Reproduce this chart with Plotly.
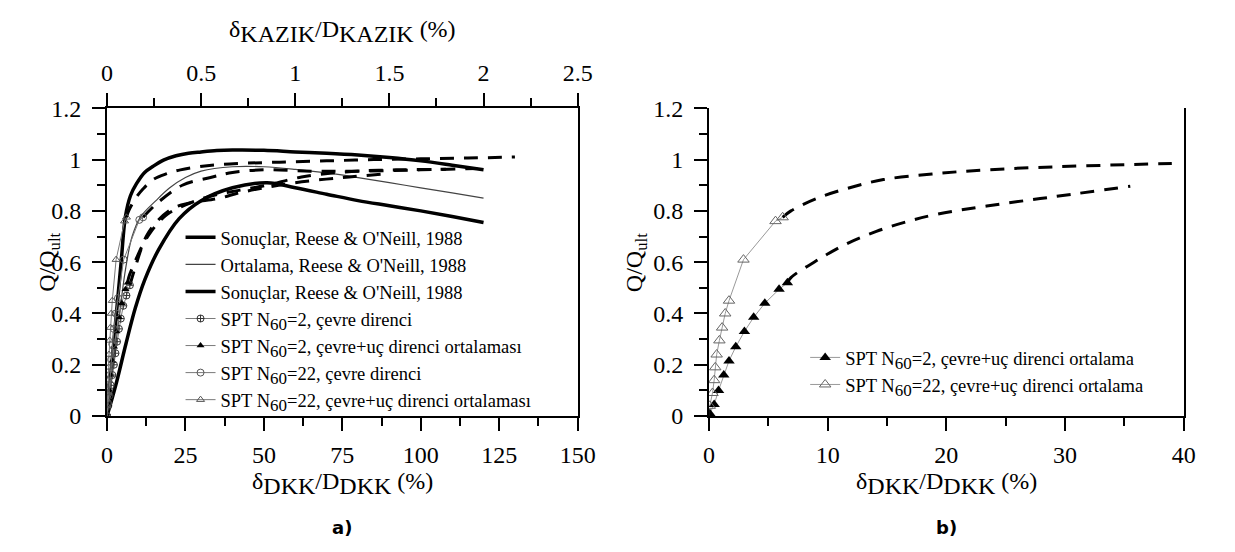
import plotly.graph_objects as go

# ---------------- data ----------------
# Panel a) - Reese & O'Neill (1988) envelopes and mean
reese_up_x = [0, 1.5, 3, 4.5, 5.9, 7.5, 9.4, 12, 14.7, 18, 22, 26, 30, 35, 40, 50, 60, 70, 80, 90, 100, 110, 120]
reese_up_y = [0, 0.2, 0.4, 0.6, 0.78, 0.86, 0.906, 0.95, 0.974, 0.998, 1.015, 1.025, 1.03, 1.035, 1.037, 1.036, 1.03, 1.025, 1.018, 1.008, 0.995, 0.978, 0.96]
reese_mean_x = [0, 2, 4, 6, 8, 10.6, 15.6, 20, 25, 30, 40, 50, 60, 70, 80, 90, 100, 110, 120]
reese_mean_y = [0, 0.2, 0.4, 0.58, 0.7, 0.775, 0.84, 0.89, 0.93, 0.955, 0.972, 0.972, 0.962, 0.948, 0.93, 0.91, 0.89, 0.87, 0.85]
reese_low_x = [0, 3, 6, 9, 12, 16.5, 23, 30, 40, 51, 60, 70, 80, 90, 100, 110, 120]
reese_low_y = [0, 0.13, 0.28, 0.42, 0.53, 0.65, 0.77, 0.84, 0.89, 0.91, 0.89, 0.865, 0.84, 0.82, 0.8, 0.778, 0.755]

# Panel a) - SPT results
n2_side_x = [0, 0.4, 0.8, 1.2, 1.7, 2.2, 2.7, 3.2, 3.8, 4.4, 5.2, 6.2, 7.3]
n2_side_y = [0, 0.04, 0.08, 0.12, 0.16, 0.2, 0.245, 0.29, 0.34, 0.38, 0.43, 0.47, 0.51]
n22_side_x = [0, 0.3, 0.6, 0.9, 1.3, 1.7, 2.2, 2.8, 3.5, 5.3, 10.3, 11.5]
n22_side_y = [0, 0.05, 0.1, 0.16, 0.22, 0.28, 0.34, 0.4, 0.46, 0.61, 0.765, 0.775]

# SPT side+tip average (both panels)
n2_tot_x = [0.06, 0.43, 0.8, 1.24, 1.68, 2.25, 2.98, 3.76, 4.7, 5.9, 6.6]
n2_tot_y = [0.01, 0.045, 0.1, 0.16, 0.215, 0.27, 0.33, 0.385, 0.44, 0.494, 0.52]
n22_tot_x = [0.06, 0.29, 0.43, 0.52, 0.64, 0.87, 1.1, 1.36, 1.68, 2.9, 5.6, 6.2]
n22_tot_y = [0.04, 0.09, 0.14, 0.19, 0.24, 0.295, 0.345, 0.4, 0.45, 0.61, 0.76, 0.775]

# extrapolated (dashed) curves, panel b)
n22_ext_x = [6.2, 6.9, 9.0, 11.6, 14.7, 18.8, 23.4, 29.2, 35, 39]
n22_ext_y = [0.775, 0.80, 0.847, 0.887, 0.922, 0.944, 0.96, 0.972, 0.98, 0.985]
n2_ext_x = [6.6, 6.9, 9.2, 11.6, 14.1, 16.6, 19.2, 23.4, 29.2, 35.5]
n2_ext_y = [0.52, 0.54, 0.61, 0.672, 0.72, 0.757, 0.787, 0.819, 0.856, 0.896]

# extrapolated (dashed) curves, panel a)
da_x = [6.2, 6.9, 9.0, 11.6, 14.7, 18.8, 23.4, 29.2, 35, 42, 55, 70, 85, 100, 115, 130]
da_y = [0.775, 0.80, 0.847, 0.887, 0.922, 0.944, 0.96, 0.972, 0.98, 0.985, 0.99, 0.995, 1.0, 1.003, 1.006, 1.01]
db_x = [11.5, 16, 24, 33, 40, 50, 65, 80, 100, 118]
db_y = [0.775, 0.83, 0.9, 0.93, 0.95, 0.96, 0.955, 0.955, 0.96, 0.965]
dc_x = [6.6, 6.9, 9.2, 11.6, 14.1, 16.6, 19.2, 23.4, 29.2, 35.5, 42, 51, 62, 76, 92, 108]
dc_y = [0.52, 0.54, 0.61, 0.672, 0.72, 0.757, 0.787, 0.815, 0.843, 0.865, 0.88, 0.9, 0.932, 0.952, 0.96, 0.962]
dd_x = [7.3, 9, 12.5, 16, 21, 26, 36, 42, 50, 60, 75, 90]
dd_y = [0.51, 0.58, 0.7, 0.76, 0.81, 0.83, 0.85, 0.87, 0.89, 0.91, 0.93, 0.945]

# axis ranges / ticks
left_xrange = [0, 150]
top_xrange = [0, 2.5]
right_xrange = [0, 40]
yrange = [0, 1.2]

W, H = 1235, 552
def px(x):
    return x / W
def py(y):
    return (H - y) / H

SERIF = "Liberation Serif, Times New Roman, serif"
GRAY = "#7a7a7a"

fig = go.Figure()

def N60(v, rest):
    return "SPT N<sub><span style='font-size:17px'>60</span></sub>=" + v + ", " + rest

# ---- panel a ----
fig.add_trace(go.Scatter(x=reese_up_x, y=reese_up_y, mode="lines", line=dict(color="black", width=3.5, shape="spline"),
                         name="Sonuçlar, Reese & O'Neill, 1988", legend="legend", xaxis="x", yaxis="y"))
fig.add_trace(go.Scatter(x=reese_mean_x, y=reese_mean_y, mode="lines", line=dict(color="#444", width=1.2, shape="spline"),
                         name="Ortalama, Reese & O'Neill, 1988", legend="legend", xaxis="x", yaxis="y"))
fig.add_trace(go.Scatter(x=reese_low_x, y=reese_low_y, mode="lines", line=dict(color="black", width=3.5, shape="spline"),
                         name="Sonuçlar, Reese & O'Neill, 1988", legend="legend", xaxis="x", yaxis="y"))
for xs, ys in [(da_x, da_y), (db_x, db_y), (dc_x, dc_y), (dd_x, dd_y)]:
    fig.add_trace(go.Scatter(x=xs, y=ys, mode="lines", line=dict(color="black", width=3, dash="14px,10px", shape="spline"),
                             showlegend=False, hoverinfo="skip", xaxis="x", yaxis="y"))
fig.add_trace(go.Scatter(x=n2_side_x, y=n2_side_y, mode="lines+markers", line=dict(color=GRAY, width=1),
                         marker=dict(symbol="circle-cross-open", size=7, color="#333", line=dict(width=1)),
                         name=N60("2", "çevre direnci"), legend="legend", xaxis="x", yaxis="y"))
fig.add_trace(go.Scatter(x=n2_tot_x, y=n2_tot_y, mode="lines+markers", line=dict(color=GRAY, width=1),
                         marker=dict(symbol="triangle-up", size=7, color="black"),
                         name=N60("2", "çevre+uç direnci ortalaması"), legend="legend", xaxis="x", yaxis="y"))
fig.add_trace(go.Scatter(x=n22_side_x, y=n22_side_y, mode="lines+markers", line=dict(color=GRAY, width=1),
                         marker=dict(symbol="circle-open", size=7, color="#555", line=dict(width=1)),
                         name=N60("22", "çevre direnci"), legend="legend", xaxis="x", yaxis="y"))
fig.add_trace(go.Scatter(x=n22_tot_x, y=n22_tot_y, mode="lines+markers", line=dict(color=GRAY, width=1),
                         marker=dict(symbol="triangle-up-open", size=7, color="#555", line=dict(width=1)),
                         name=N60("22", "çevre+uç direnci ortalaması"), legend="legend", xaxis="x", yaxis="y"))
# anchor trace for the top axis (invisible)
fig.add_trace(go.Scatter(x=top_xrange, y=[0, 0], mode="markers", marker=dict(opacity=0), showlegend=False,
                         hoverinfo="skip", xaxis="x3", yaxis="y"))

# ---- panel b ----
fig.add_trace(go.Scatter(x=n22_ext_x, y=n22_ext_y, mode="lines", line=dict(color="black", width=3, dash="14px,10px", shape="spline"),
                         showlegend=False, hoverinfo="skip", xaxis="x2", yaxis="y2"))
fig.add_trace(go.Scatter(x=n2_ext_x, y=n2_ext_y, mode="lines", line=dict(color="black", width=3, dash="14px,10px", shape="spline"),
                         showlegend=False, hoverinfo="skip", xaxis="x2", yaxis="y2"))
fig.add_trace(go.Scatter(x=n2_tot_x, y=n2_tot_y, mode="lines+markers", line=dict(color="#999", width=1),
                         marker=dict(symbol="triangle-up", size=10, color="black"),
                         name=N60("2", "çevre+uç direnci ortalama"), legend="legend2", xaxis="x2", yaxis="y2"))
fig.add_trace(go.Scatter(x=n22_tot_x, y=n22_tot_y, mode="lines+markers", line=dict(color="#999", width=1),
                         marker=dict(symbol="triangle-up-open", size=10, color="#666", line=dict(width=1)),
                         name=N60("22", "çevre+uç direnci ortalama"), legend="legend2", xaxis="x2", yaxis="y2"))

tickfont = dict(family=SERIF, size=24, color="black")
axis_common = dict(showline=True, linecolor="black", linewidth=2, ticks="outside", ticklen=13, tickwidth=2,
                   tickcolor="black", showgrid=False, zeroline=False, tickfont=tickfont)
minor_common = dict(ticklen=8, tickwidth=2, tickcolor="black", ticks="outside")

LX = [px(103), px(583)]
RX = [px(717), px(1201)]
YD = [py(423), py(100)]

fig.update_layout(
    width=W, height=H, margin=dict(l=0, r=0, t=0, b=0),
    paper_bgcolor="white", plot_bgcolor="white", showlegend=True,
    xaxis=dict(domain=LX, range=left_xrange, dtick=25, tick0=0, anchor="y", ticklabelstandoff=3,
               minor=dict(dtick=12.5, **minor_common), **axis_common),
    xaxis3=dict(overlaying="x", side="top", range=top_xrange, dtick=0.5, tick0=0, anchor="y", ticklabelstandoff=3,
                minor=dict(dtick=0.25, **minor_common), **axis_common),
    yaxis=dict(domain=YD, range=yrange, dtick=0.2, tick0=0, anchor="x", mirror=True, ticklabelstandoff=6,
               minor=dict(dtick=0.1, **minor_common), **axis_common),
    xaxis2=dict(domain=RX, range=right_xrange, dtick=10, tick0=0, anchor="y2", ticklabelstandoff=3,
                minor=dict(dtick=5, **minor_common), **axis_common),
    yaxis2=dict(domain=YD, range=yrange, dtick=0.2, tick0=0, anchor="x2", mirror=True, ticklabelstandoff=6,
                minor=dict(dtick=0.1, **minor_common), **axis_common),
    legend=dict(x=px(178), y=py(216), xanchor="left", yanchor="top", bgcolor="rgba(0,0,0,0)",
                font=dict(family=SERIF, size=18.5, color="black"), traceorder="normal"),
    legend2=dict(x=px(815), y=py(342), xanchor="left", yanchor="top", bgcolor="rgba(0,0,0,0)",
                 font=dict(family=SERIF, size=18.5, color="black")),
)

sub = lambda s: "<sub><span style='font-size:24px'>" + s + "</span></sub>"
ann = [
    dict(text="δ" + sub("KAZIK") + "/D" + sub("KAZIK") + " (%)", x=px(343), y=py(1), yanchor="top"),
    dict(text="δ" + sub("DKK") + "/D" + sub("DKK") + " (%)", x=px(343), y=py(494), yanchor="middle"),
    dict(text="δ" + sub("DKK") + "/D" + sub("DKK") + " (%)", x=px(959), y=py(494), yanchor="middle"),
    dict(text="Q/Q<sub>ult</sub>", x=px(43), y=py(262), textangle=-90, yanchor="middle"),
    dict(text="Q/Q<sub>ult</sub>", x=px(642), y=py(262), textangle=-90, yanchor="middle"),
]
for a in ann:
    fig.add_annotation(xref="paper", yref="paper", showarrow=False, xanchor="center",
                       font=dict(family=SERIF, size=24, color="black"), **a)
for t, xx in [("a)", 343), ("b)", 959)]:
    fig.add_annotation(text="<b>" + t + "</b>", xref="paper", yref="paper", x=px(xx), y=py(540), showarrow=False,
                       xanchor="center", yanchor="middle", font=dict(family="DejaVu Sans", size=18, color="black"))

fig.write_html("out.html")
